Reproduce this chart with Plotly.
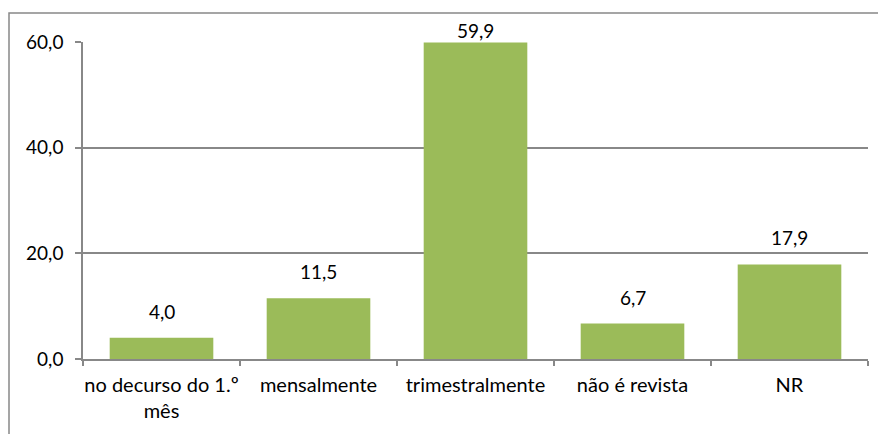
import plotly.graph_objects as go

categories = ["no decurso do 1.º<br>mês", "mensalmente", "trimestralmente", "não é revista", "NR"]
values = [4.0, 11.5, 59.9, 6.7, 17.9]
y_ticks = [0, 20, 40, 60]

# page is rendered with an 8px body margin, so figure is offset by 8px
W, H = 878, 426
L, R, T, B = 75, 18, 34, 75
pw = W - L - R
ph = H - T - B
FONT = "Lato"
FS = 19
FS_CAT = 20
Y_MAX = 60

fig = go.Figure(go.Bar(
    x=categories, y=values,
    marker=dict(color="#9BBB59", line=dict(width=0)),
    hoverinfo="x+y",
    cliponaxis=False,
))

for c, v in zip(categories, values):
    # Excel pushes the label down when it would leave the chart area
    shift = 13 if v < Y_MAX * 0.9 else -1
    fig.add_annotation(
        x=c, y=v, text=f"{v:.1f}".replace(".", ","),
        showarrow=False, yanchor="bottom", yshift=shift,
        font=dict(family=FONT, size=FS, color="#000000"),
    )

# outer chart border (Excel style)
fig.add_shape(type="rect", xref="paper", yref="paper",
              x0=(1 - L) / pw, x1=(W + 20 - L) / pw,
              y0=(H - B - (H + 20)) / ph, y1=(H - B - 5) / ph,
              line=dict(color="#888888", width=1.5), fillcolor="rgba(0,0,0,0)", layer="below")

fig.update_layout(
    width=W, height=H,
    margin=dict(l=L, r=R, t=T, b=B, pad=0, autoexpand=False),
    paper_bgcolor="white", plot_bgcolor="white",
    bargap=0.34,
    separators=",.",
    showlegend=False,
    font=dict(family=FONT, size=FS, color="#000000"),
    xaxis=dict(
        type="category", tickson="boundaries", ticks="outside", ticklen=5,
        tickcolor="#888888", tickwidth=1.5, ticklabelstandoff=7,
        tickangle=0, automargin=False,
        showline=True, linecolor="#888888", linewidth=1.5,
        showgrid=False, tickfont=dict(size=FS_CAT),
    ),
    yaxis=dict(
        range=[0, Y_MAX], tickvals=y_ticks, tickformat=".1f",
        ticks="outside", ticklen=6, tickcolor="#888888", tickwidth=1.5,
        ticklabelstandoff=8, automargin=False,
        showline=True, linecolor="#888888", linewidth=1.5,
        showgrid=True, gridcolor="#888888", gridwidth=1.5,
        zeroline=False, tickfont=dict(size=FS),
    ),
)

fig.write_html("out.html")
